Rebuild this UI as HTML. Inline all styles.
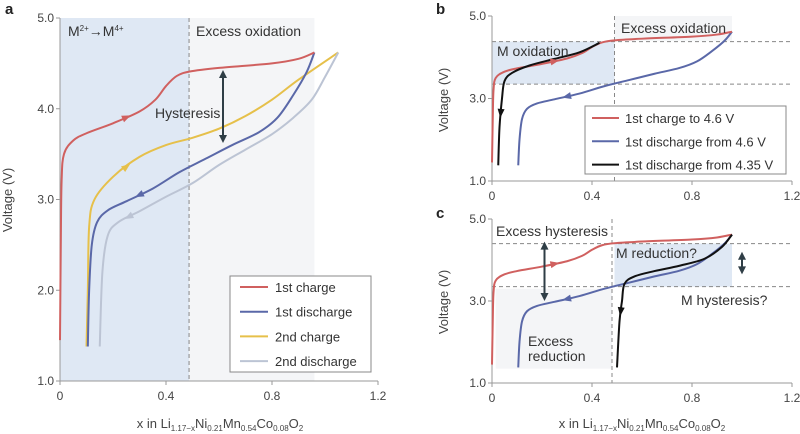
<!DOCTYPE html>
<html><head><meta charset="utf-8"><style>
html,body{margin:0;padding:0;background:#fff}
svg{display:block;font-family:"Liberation Sans",sans-serif}
</style></head><body>
<svg id="fig" width="800" height="434" viewBox="0 0 800 434"></svg>
<script>
// ---- data ----
const xTicks=[0,0.4,0.8,1.2];
const xTickLabels=["0","0.4","0.8","1.2"];
const yTicksA=[1,2,3,4,5];
const yTickLabelsA=["1.0","2.0","3.0","4.0","5.0"];
const yTicksBC=[1,3,5];
const yTickLabelsBC=["1.0","3.0","5.0"];
const charge1X=[0,0.003,0.006,0.015,0.05,0.1,0.2,0.3,0.36,0.4,0.44,0.49,0.6,0.8,0.9,0.96];
const charge1V=[1.45,2.5,3.2,3.5,3.65,3.73,3.84,3.97,4.1,4.25,4.36,4.41,4.45,4.5,4.55,4.62];
const discharge1X=[0.96,0.93,0.88,0.82,0.75,0.65,0.55,0.45,0.35,0.25,0.18,0.14,0.12,0.11,0.105];
const discharge1V=[4.62,4.4,4.15,3.9,3.74,3.6,3.45,3.3,3.12,2.98,2.88,2.75,2.5,2.0,1.38];
const charge2X=[0.1,0.105,0.11,0.13,0.2,0.3,0.4,0.5,0.6,0.7,0.8,0.9,1.05];
const charge2V=[1.38,2.0,2.7,3.0,3.25,3.47,3.6,3.68,3.78,3.92,4.1,4.32,4.62];
const discharge2X=[1.05,1.0,0.95,0.88,0.8,0.7,0.6,0.5,0.4,0.3,0.22,0.18,0.16,0.15];
const discharge2V=[4.62,4.35,4.1,3.9,3.72,3.55,3.38,3.18,3.03,2.87,2.75,2.6,2.2,1.38];
const dis435X=[0.43,0.35,0.25,0.15,0.08,0.05,0.04,0.03,0.025];
const dis435V=[4.35,4.12,3.96,3.8,3.62,3.42,3.0,2.3,1.38];
const reducX=[0.96,0.92,0.85,0.75,0.65,0.57,0.53,0.52,0.51,0.5];
const reducV=[4.62,4.32,4.03,3.86,3.73,3.6,3.42,3.0,2.5,1.38];

const S="http://www.w3.org/2000/svg";
const svg=document.getElementById('fig');
function el(t,a,p){const e=document.createElementNS(S,t);for(const k in a)e.setAttribute(k,a[k]);(p||svg).appendChild(e);return e;}
function axes(x0,x1,yTop,yBot){
  return {x:v=>x0+(x1-x0)*v/1.2, y:v=>yBot-(yBot-yTop)*(v-1)/4, x0,x1,yTop,yBot};
}
const A=axes(60,378,18,381), B=axes(492,792,16,181), C=axes(492,792,219,383);
function path(ax,xs,vs){
  const p=xs.map((x,i)=>[ax.x(x),ax.y(vs[i])]);
  let d="M"+p[0][0]+","+p[0][1];
  for(let i=0;i<p.length-1;i++){
    const p0=p[i-1]||p[i],p1=p[i],p2=p[i+1],p3=p[i+2]||p2;
    const c1=[p1[0]+(p2[0]-p0[0])/6,p1[1]+(p2[1]-p0[1])/6];
    const c2=[p2[0]-(p3[0]-p1[0])/6,p2[1]-(p3[1]-p1[1])/6];
    d+=` C${c1[0]},${c1[1]} ${c2[0]},${c2[1]} ${p2[0]},${p2[1]}`;
  }
  return d;
}
function curve(ax,xs,vs,col,name,w){
  const e=el('path',{d:path(ax,xs,vs),fill:'none',stroke:col,'stroke-width':w||2});
  
  
  return e;
}
function arrowHead(ax,xs,vs,i,col){
  const x1=ax.x(xs[i]),y1=ax.y(vs[i]),x2=ax.x(xs[i+1]),y2=ax.y(vs[i+1]);
  const mx=(x1+x2)/2,my=(y1+y2)/2,a=Math.atan2(y2-y1,x2-x1)*180/Math.PI;
  const e=el('polygon',{points:"5,0 -4,-3.5 -4,3.5",fill:col,transform:`translate(${mx},${my}) rotate(${a})`});
  
  
}
function rect(ax,xa,xb,va,vb,fill,name){
  const e=el('rect',{x:ax.x(xa),y:ax.y(vb),width:ax.x(xb)-ax.x(xa),height:ax.y(va)-ax.y(vb),fill});
  
  
}
function dline(x1,y1,x2,y2,name){
  const e=el('line',{x1,y1,x2,y2,stroke:'#888','stroke-width':1,'stroke-dasharray':'4,3'});
  
  
}
function text(x,y,s,opt,name){
  const e=el('text',Object.assign({x,y,fill:'#333','font-size':13},opt||{}));
  e.innerHTML=s;
  
  
  return e;
}
function drawAxes(ax,yt,ytl,p){
  const g=el('g',{});
  
  
  el('line',{x1:ax.x0,y1:ax.yTop,x2:ax.x0,y2:ax.yBot,stroke:'#999'},g);
  el('line',{x1:ax.x0,y1:ax.yBot,x2:ax.x1,y2:ax.yBot,stroke:'#999'},g);
  xTicks.forEach((v,i)=>{el('line',{x1:ax.x(v),x2:ax.x(v),y1:ax.yBot,y2:ax.yBot+4,stroke:'#999'},g);
    const t=text(ax.x(v),ax.yBot+19,xTickLabels[i],{'text-anchor':'middle','font-size':12,fill:'#444'},'x-tick-label');});
  yt.forEach((v,i)=>{el('line',{x1:ax.x0-4,x2:ax.x0,y1:ax.y(v),y2:ax.y(v),stroke:'#999'},g);
    text(ax.x0-6,ax.y(v)+4,ytl[i],{'text-anchor':'end','font-size':12,fill:'#444'},'y-tick-label');});
}
function dblArrow(x,y1,y2,name){
  const g=el('g',{});
  
  
  el('line',{x1:x,x2:x,y1:y1+6,y2:y2-6,stroke:'#2f3e46','stroke-width':2},g);
  el('polygon',{points:`${x},${y1} ${x-4},${y1+8} ${x+4},${y1+8}`,fill:'#2f3e46'},g);
  el('polygon',{points:`${x},${y2} ${x-4},${y2-8} ${x+4},${y2-8}`,fill:'#2f3e46'},g);
}
const RED='#d0605f',BLUE='#5a68a8',YEL='#e6c04a',GRY='#bcc4d4',BLK='#111';
const SHB='#dfe8f4',SHG='#f4f5f7';

// ---- panel a ----
rect(A,0,0.487,1,5,SHB,'m-oxidation-region');
rect(A,0.487,0.96,1,5,SHG,'excess-oxidation-region');
dline(A.x(0.487),A.yTop,A.x(0.487),A.yBot,'divider-line');
drawAxes(A,yTicksA,yTickLabelsA,'a');
curve(A,charge2X,charge2V,YEL,'second-charge-line');
curve(A,discharge2X,discharge2V,GRY,'second-discharge-line');
curve(A,discharge1X,discharge1V,BLUE,'first-discharge-line');
curve(A,charge1X,charge1V,RED,'first-charge-line');
arrowHead(A,charge1X,charge1V,6,RED);arrowHead(A,charge2X,charge2V,4,YEL);
arrowHead(A,discharge1X,discharge1V,8,BLUE);arrowHead(A,discharge2X,discharge2V,9,GRY);
text(68,36,'M<tspan font-size="8" dy="-5">2+</tspan><tspan dy="5">→M</tspan><tspan font-size="8" dy="-5">4+</tspan>',{'font-size':14},'oxidation-label');
text(196,36,'Excess oxidation',{'font-size':14},'excess-oxidation-label');
dblArrow(223,70,143,'hysteresis-arrow');
text(155,118,'Hysteresis',{'font-size':14},'hysteresis-label');
text(5,14,'a',{'font-size':15,'font-weight':'bold',fill:'#222'},'panel-a-letter');
text(0,0,'Voltage (V)',{'font-size':13,'text-anchor':'middle',transform:'translate(12,200) rotate(-90)',fill:'#444'},'y-axis-title');
text(220,428,'x in Li<tspan font-size="8" dy="3">1.17−x</tspan><tspan dy="-3">Ni</tspan><tspan font-size="8" dy="3">0.21</tspan><tspan dy="-3">Mn</tspan><tspan font-size="8" dy="3">0.54</tspan><tspan dy="-3">Co</tspan><tspan font-size="8" dy="3">0.08</tspan><tspan dy="-3">O</tspan><tspan font-size="8" dy="3">2</tspan>',{'text-anchor':'middle','fill':'#444'},'x-axis-title');
// legend a
(function(){const g=el('g',{});
el('rect',{x:230,y:276,width:141,height:96,fill:'#fff',stroke:'#888'},g);
[['1st charge',RED],['1st discharge',BLUE],['2nd charge',YEL],['2nd discharge',GRY]].forEach((d,i)=>{
 const y=287+i*24.7;el('line',{x1:240,x2:268,y1:y,y2:y,stroke:d[1],'stroke-width':2},g);
 const t=text(275,y+5,d[0],{'font-size':13},'legend-entry');g.appendChild(t);});})();

// ---- panel b ----
rect(B,0,0.49,3.35,4.38,SHB,'m-oxidation-region-b');
rect(B,0.49,0.96,4.4,5,SHG,'excess-oxidation-region-b');
dline(B.x(0.49),B.yTop,B.x(0.49),B.yBot,'divider-line-b');
dline(B.x0,B.y(4.38),B.x1,B.y(4.38),'upper-level-b');
dline(B.x0,B.y(3.35),B.x1,B.y(3.35),'lower-level-b');
drawAxes(B,yTicksBC,yTickLabelsBC,'b');
curve(B,discharge1X,discharge1V,BLUE,'discharge-4.6-line');
curve(B,charge1X,charge1V,RED,'charge-4.6-line');
curve(B,dis435X,dis435V,BLK,'discharge-4.35-line');
arrowHead(B,charge1X,charge1V,6,RED);arrowHead(B,discharge1X,discharge1V,8,BLUE);arrowHead(B,dis435X,dis435V,6,BLK);
text(497,56,'M oxidation',{'font-size':14},'m-oxidation-label');
text(621,33,'Excess oxidation',{'font-size':14},'excess-oxidation-label-b');
text(436,14,'b',{'font-size':15,'font-weight':'bold',fill:'#222'},'panel-b-letter');
text(0,0,'Voltage (V)',{'font-size':13,'text-anchor':'middle',transform:'translate(448,100) rotate(-90)',fill:'#444'},'y-axis-title-b');
(function(){const g=el('g',{});
el('rect',{x:585,y:106,width:201,height:68,fill:'#fff',stroke:'#888'},g);
[['1st charge to 4.6 V',RED],['1st discharge from 4.6 V',BLUE],['1st discharge from 4.35 V',BLK]].forEach((d,i)=>{
 const y=118+i*23.3;el('line',{x1:592,x2:619,y1:y,y2:y,stroke:d[1],'stroke-width':2},g);
 g.appendChild(text(625,y+5,d[0],{'font-size':13},'legend-entry'));});})();

// ---- panel c ----
rect(C,0.49,0.96,3.35,4.4,SHB,'m-reduction-region');
rect(C,0.015,0.48,1.35,3.3,SHG,'excess-reduction-region');
dline(C.x(0.48),C.yTop,C.x(0.48),C.yBot,'divider-line-c');
dline(C.x0,C.y(4.4),C.x1,C.y(4.4),'upper-level-c');
dline(C.x0,C.y(3.35),C.x1,C.y(3.35),'lower-level-c');
drawAxes(C,yTicksBC,yTickLabelsBC,'c');
curve(C,discharge1X,discharge1V,BLUE,'discharge-line-c');
curve(C,charge1X,charge1V,RED,'charge-line-c');
curve(C,reducX,reducV,BLK,'reduction-line-c');
arrowHead(C,charge1X,charge1V,6,RED);arrowHead(C,discharge1X,discharge1V,8,BLUE);arrowHead(C,reducX,reducV,7,BLK);
dblArrow(C.x(0.21),C.y(4.4)-2,C.y(3.0),'excess-hysteresis-arrow');
dblArrow(742,C.y(4.2),C.y(3.65),'m-hysteresis-arrow');
text(496,236,'Excess hysteresis',{'font-size':14},'excess-hysteresis-label');
text(616,258,'M reduction?',{'font-size':14},'m-reduction-label');
text(681,305,'M hysteresis?',{'font-size':14},'m-hysteresis-label');
text(528,346,'Excess',{'font-size':14},'excess-reduction-label');
text(528,361,'reduction',{'font-size':14},'excess-reduction-label-2');
text(436,218,'c',{'font-size':15,'font-weight':'bold',fill:'#222'},'panel-c-letter');
text(0,0,'Voltage (V)',{'font-size':13,'text-anchor':'middle',transform:'translate(448,302) rotate(-90)',fill:'#444'},'y-axis-title-c');
text(642,428,'x in Li<tspan font-size="8" dy="3">1.17−x</tspan><tspan dy="-3">Ni</tspan><tspan font-size="8" dy="3">0.21</tspan><tspan dy="-3">Mn</tspan><tspan font-size="8" dy="3">0.54</tspan><tspan dy="-3">Co</tspan><tspan font-size="8" dy="3">0.08</tspan><tspan dy="-3">O</tspan><tspan font-size="8" dy="3">2</tspan>',{'text-anchor':'middle','fill':'#444'},'x-axis-title-c');
</script>
</body></html>
